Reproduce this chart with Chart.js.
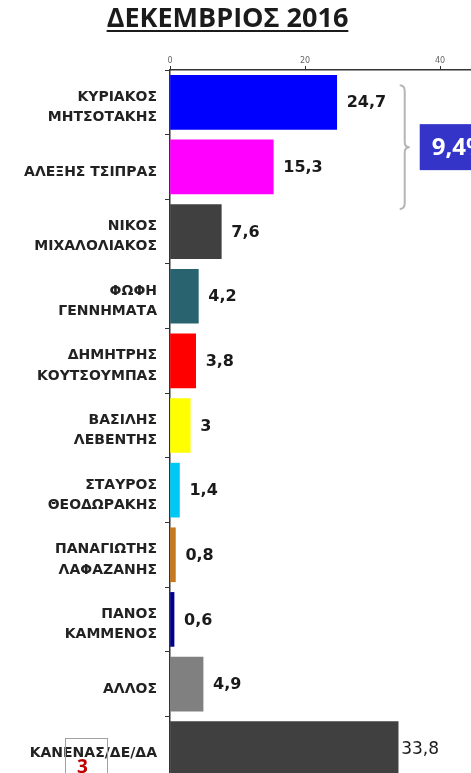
<!DOCTYPE html>
<html>
<head>
<meta charset="utf-8">
<script src="https://cdn.jsdelivr.net/npm/chart.js@4.4.1/dist/chart.umd.min.js"></script>
<style>
  html, body { margin: 0; padding: 0; background: #fff; }
  #wrap { position: relative; width: 471px; height: 773px; overflow: hidden; background: #fff; }
  #title {
    position: absolute; left: 0; top: 1px; width: 455px; text-align: center;
    font: bold 27px "Open Sans", sans-serif; color: #1b1b1b;
    text-decoration: underline; text-decoration-thickness: 2px; text-underline-offset: 3px;
    line-height: 32px;
  }
  #chartBox { position: absolute; left: 0; top: 0; width: 600px; height: 781px; }
  #pageNo {
    position: absolute; left: 65px; top: 738px; width: 41px; height: 60px;
    border: 1px solid #a0a0a0;
  }
  #pageNo span {
    position: absolute; left: 11px; top: 14px;
    font: bold 19px "Open Sans", sans-serif; color: #c00000;
  }
</style>
</head>
<body>
<div id="wrap">
  <div id="chartBox"><canvas id="barChart" width="600" height="781"></canvas></div>
  <div id="title">ΔΕΚΕΜΒΡΙΟΣ 2016</div>
  <div id="pageNo"><span>3</span></div>
</div>
<script>
// dedomena
const categories = [
    ['ΚΥΡΙΑΚΟΣ', 'ΜΗΤΣΟΤΑΚΗΣ'],
    'ΑΛΕΞΗΣ ΤΣΙΠΡΑΣ',
    ['ΝΙΚΟΣ', 'ΜΙΧΑΛΟΛΙΑΚΟΣ'],
    ['ΦΩΦΗ', 'ΓΕΝΝΗΜΑΤΑ'],
    ['ΔΗΜΗΤΡΗΣ', 'ΚΟΥΤΣΟΥΜΠΑΣ'],
    ['ΒΑΣΙΛΗΣ', 'ΛΕΒΕΝΤΗΣ'],
    ['ΣΤΑΥΡΟΣ', 'ΘΕΟΔΩΡΑΚΗΣ'],
    ['ΠΑΝΑΓΙΩΤΗΣ', 'ΛΑΦΑΖΑΝΗΣ'],
    ['ΠΑΝΟΣ', 'ΚΑΜΜΕΝΟΣ'],
    'ΑΛΛΟΣ',
    'ΚΑΝΕΝΑΣ/ΔΕ/ΔΑ'
];
const values = [24.7, 15.3, 7.6, 4.2, 3.8, 3, 1.4, 0.8, 0.6, 4.9, 33.8];
const barColors = ['#0000ff', '#ff00ff', '#404040', '#29636f', '#ff0000', '#ffff00',
                   '#00c8f5', '#c8781e', '#00008c', '#808080', '#404040'];
const xMin = 0;
const xMax = 60;
const xStep = 20;

const fmt = v => String(v).replace('.', ',');

// value labels + brace with difference box
const extrasPlugin = {
    id: 'extras',
    afterDatasetsDraw(chart) {
        const ctx = chart.ctx;
        const bars = chart.getDatasetMeta(0).data;
        ctx.save();
        bars.forEach((bar, i) => {
            const last = i === values.length - 1;
            ctx.font = (last ? 'normal 17px' : 'bold 16px') + ' "DejaVu Sans", sans-serif';
            ctx.fillStyle = '#1a1a1a';
            ctx.textAlign = 'left';
            ctx.textBaseline = 'middle';
            ctx.fillText(fmt(values[i]), bar.x + (last ? 3 : 10), bar.y + 1);
        });

        // brace between the first two
        const b0 = bars[0], b1 = bars[1];
        const top = b0.y - b0.height / 2 + 10;
        const bottom = b1.y + b1.height / 2 + 15;
        const mid = (top + bottom) / 2;
        const x0 = b0.x + 63;
        ctx.strokeStyle = '#b5b5b5';
        ctx.lineWidth = 2;
        ctx.beginPath();
        ctx.moveTo(x0, top);
        ctx.quadraticCurveTo(x0 + 5, top, x0 + 5, top + 6);
        ctx.lineTo(x0 + 5, mid - 5);
        ctx.quadraticCurveTo(x0 + 5, mid, x0 + 10, mid);
        ctx.quadraticCurveTo(x0 + 5, mid, x0 + 5, mid + 5);
        ctx.lineTo(x0 + 5, bottom - 6);
        ctx.quadraticCurveTo(x0 + 5, bottom, x0, bottom);
        ctx.stroke();

        // box
        const bx = x0 + 20;
        ctx.fillStyle = '#3434c9';
        ctx.fillRect(bx, mid - 23, 120, 46);
        ctx.fillStyle = '#ffffff';
        ctx.font = 'bold 24px "Open Sans", sans-serif';
        ctx.textBaseline = 'middle';
        const diff = (values[0] - values[1]).toFixed(1);
        ctx.fillText(fmt(diff) + '%', bx + 12, mid + 1);
        ctx.restore();
    }
};

const ctxBar = document.getElementById('barChart').getContext('2d');
new Chart(ctxBar, {
    type: 'bar',
    data: {
        labels: categories,
        datasets: [{
            data: values,
            backgroundColor: barColors,
            borderWidth: 0,
            barThickness: 54
        }]
    },
    options: {
        indexAxis: 'y',
        responsive: false,
        animation: false,
        devicePixelRatio: 1,
        layout: { padding: { top: 0, left: 0, right: 25, bottom: 0 } },
        plugins: {
            legend: { display: false },
            tooltip: { enabled: false }
        },
        scales: {
            x: {
                position: 'top',
                min: xMin,
                max: xMax,
                ticks: {
                    stepSize: xStep,
                    color: '#666',
                    font: { size: 8, family: 'DejaVu Sans' },
                    padding: 0
                },
                grid: { drawOnChartArea: false, tickLength: 4, color: '#333' },
                border: { color: '#333', width: 1.5 },
                afterFit: s => { s.height = 70; s.paddingLeft = 0; s.paddingRight = 0; }
            },
            y: {
                offset: true,
                ticks: {
                    color: '#222',
                    font: { size: 14, weight: 'bold', family: 'DejaVu Sans', lineHeight: 1.45 },
                    padding: 8,
                    labelOffset: 5,
                    autoSkip: false
                },
                grid: { drawOnChartArea: false, offset: true, tickLength: 5, color: '#333' },
                border: { color: '#333', width: 1.5 },
                afterFit: s => { s.width = 170; s.paddingTop = 0; s.paddingBottom = 0; }
            }
        }
    },
    plugins: [extrasPlugin]
});
</script>
</body>
</html>
